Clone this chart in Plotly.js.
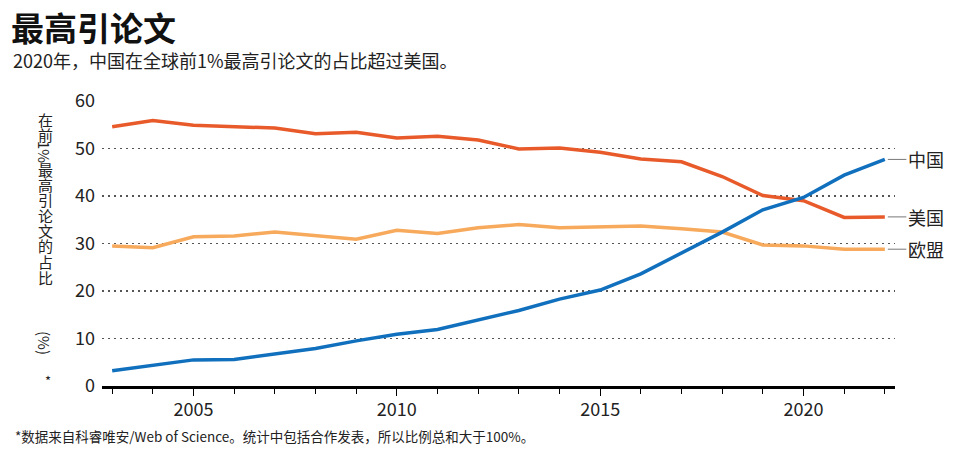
<!DOCTYPE html>
<html>
<head>
<meta charset="utf-8">
<script src="https://cdn.plot.ly/plotly-3.0.1.min.js"></script>
<style>
html,body{margin:0;padding:0;background:#fff;}
#chart{width:960px;height:452px;}
</style>
</head>
<body>
<div id="chart"></div>
<script>
// ---- data ----
const years = [2003,2004,2005,2006,2007,2008,2009,2010,2011,2012,2013,2014,2015,2016,2017,2018,2019,2020,2021,2022];
const china = [3.2,4.4,5.5,5.6,6.7,7.9,9.5,10.9,11.9,13.9,15.9,18.3,20.2,23.6,27.9,32.4,37.1,39.7,44.4,47.7];
const usa   = [54.6,55.9,54.9,54.6,54.3,53.1,53.4,52.2,52.6,51.8,49.9,50.1,49.2,47.8,47.2,44.1,40.1,39.0,35.5,35.6];
const eu    = [29.5,29.1,31.4,31.6,32.4,31.6,30.9,32.8,32.1,33.3,34.0,33.3,33.5,33.7,33.1,32.4,29.7,29.5,28.8,28.8];
const seriesNames = ["中国","美国","欧盟"];
const xTickVals = [2005,2010,2015,2020];
const xTickText = ["2005","2010","2015","2020"];
const titleText = "最高引论文";
const subtitleText = "2020年，中国在全球前1%最高引论文的占比超过美国。";
const footnoteText = "*数据来自科睿唯安/Web of Science。统计中包括合作发表，所以比例总和大于100%。";
const yTitleParts = ["在","前","1%","最","高","引","论","文","的","占","比","(%)","*"];

// ---- layout helpers ----
const FONT = "'Noto Sans CJK SC', 'Noto Sans', sans-serif";
const W = 960, H = 452;
const M = {l:102, r:65, t:101, b:66};
const PW = W - M.l - M.r, PH = H - M.t - M.b;
const px = x => (x - M.l) / PW;
const py = y => (H - M.b - y) / PH;

const colors = {china:'#1170bd', usa:'#e85a2a', eu:'#f7a95c'};

const traces = [
  {x: years, y: eu, name: seriesNames[2], mode:'lines', line:{color:colors.eu, width:3.5}, hoverinfo:'skip'},
  {x: years, y: usa, name: seriesNames[1], mode:'lines', line:{color:colors.usa, width:3.5}, hoverinfo:'skip'},
  {x: years, y: china, name: seriesNames[0], mode:'lines', line:{color:colors.china, width:3.5}, hoverinfo:'skip'}
];

const annotations = [];
// subtitle
annotations.push({xref:'paper', yref:'paper', x:px(11), y:py(60), xanchor:'left', yanchor:'middle',
  text: subtitleText, showarrow:false, font:{family:FONT, size:18, color:'#222'}});
// footnote
annotations.push({xref:'paper', yref:'paper', x:px(13), y:py(436), xanchor:'left', yanchor:'middle',
  text: footnoteText, showarrow:false, font:{family:FONT, size:13.5, color:'#222'}});

// series end labels
const ends = [china, usa, eu];
ends.forEach((arr, i) => {
  annotations.push({xref:'x', yref:'y', x: years[years.length-1], y: arr[arr.length-1],
    text: seriesNames[i], showarrow:true, arrowhead:0, arrowwidth:1, arrowcolor:'#777',
    ax: 41, ay: 0, standoff: 3, xanchor:'center', yanchor:'middle',
    font:{family:FONT, size:18, color:'#222'}});
});

// vertical y-axis title (upright CJK, sideways Latin as in vertical writing)
const yCenters = [119,134,152,169,184,199,215,230,245,261,277,343,380];
yTitleParts.forEach((t, i) => {
  const rotated = /[0-9%()]/.test(t);
  annotations.push({xref:'paper', yref:'paper', x:px(t === '*' ? 48 : 45), y:py(yCenters[i]),
    xanchor:'center', yanchor:'middle', text:t, showarrow:false, borderpad:0,
    textangle: rotated ? 90 : 0,
    font:{family:FONT, size: t === '*' ? 13 : 15, color:'#222'}});
});

const layout = {
  width: W, height: H,
  margin: M,
  paper_bgcolor:'#fff', plot_bgcolor:'#fff',
  showlegend:false,
  title:{text:'<b>'+titleText+'</b>', xref:'container', yref:'container', x:11/W, y:1-29/H,
    xanchor:'left', yanchor:'middle', font:{family:FONT, size:33, color:'#111'}},
  xaxis:{
    range:[2002.75, 2022.25], fixedrange:true,
    tickmode:'array', tickvals:xTickVals, ticktext:xTickText,
    ticks:'outside', ticklen:7, tickwidth:1, tickcolor:'#000', ticklabelstandoff:-2,
    minor:{tickmode:'array', tickvals:years, ticks:'outside', ticklen:5, tickwidth:1, tickcolor:'#000', showgrid:false},
    showline:true, linewidth:3, linecolor:'#000',
    showgrid:false, zeroline:false,
    tickfont:{family:FONT, size:18, color:'#222'}
  },
  yaxis:{
    range:[0,60], dtick:10, tick0:0, fixedrange:true,
    showgrid:true, gridcolor:'#555', gridwidth:1.5, griddash:'1.5px,4.5px',
    zeroline:false, showline:false, ticks:'', ticklabelstandoff:6,
    tickfont:{family:FONT, size:18, color:'#222'}
  },
  annotations: annotations
};

Plotly.newPlot('chart', traces, layout, {displayModeBar:false, staticPlot:true});
</script>
</body>
</html>
